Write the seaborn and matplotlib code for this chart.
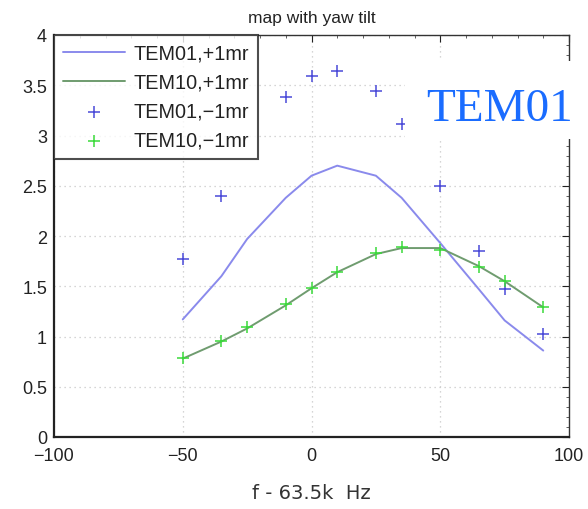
import matplotlib
matplotlib.use("Agg")
import matplotlib.pyplot as plt
from matplotlib.patches import Rectangle
from matplotlib.ticker import MultipleLocator
import seaborn as sns
import pandas as pd

# Frequency offsets (Hz from 63.5 kHz)
freq_line = [-50, -35, -25, -10, 0, 10, 25, 35, 50, 65, 75, 90]
tem01_plus = [1.17, 1.60, 1.97, 2.38, 2.60, 2.70, 2.60, 2.38, 1.93, 1.47, 1.16, 0.86]
tem10_plus = [0.78, 0.95, 1.08, 1.31, 1.48, 1.64, 1.82, 1.88, 1.88, 1.70, 1.55, 1.29]

freq_tem01_minus = [-50, -35, -10, 0, 10, 25, 35, 50, 65, 75, 90]
tem01_minus = [1.77, 2.40, 3.38, 3.59, 3.64, 3.44, 3.11, 2.50, 1.85, 1.47, 1.02]

freq_tem10_minus = [-50, -35, -25, -10, 0, 10, 25, 35, 50, 65, 75, 90]
tem10_minus = [0.79, 0.96, 1.09, 1.32, 1.48, 1.64, 1.83, 1.89, 1.86, 1.69, 1.55, 1.29]

x_ticks = [-100, -50, 0, 50, 100]
y_ticks = [0, 0.5, 1, 1.5, 2, 2.5, 3, 3.5, 4]

sns.set_style("white")
plt.rcParams["font.family"] = ["Liberation Sans", "DejaVu Sans"]

fig = plt.figure(figsize=(5.88, 5.10), dpi=100)
ax = fig.add_axes([54 / 588, 72 / 510, 515 / 588, 402 / 510])

c_blue_line = "#8a8aec"
c_green_line = "#6f9c6f"
c_blue_mark = "#4a4ad8"
c_green_mark = "#3ada3a"

lines_df = pd.DataFrame({"f": freq_line, "a": tem01_plus, "b": tem10_plus})
sns.lineplot(data=lines_df, x="f", y="a", ax=ax, color=c_blue_line, lw=1.4,
             label="TEM01,+1mr", zorder=3)
sns.lineplot(data=lines_df, x="f", y="b", ax=ax, color=c_green_line, lw=1.4,
             label="TEM10,+1mr", zorder=3)

m01 = pd.DataFrame({"f": freq_tem01_minus, "v": tem01_minus})
m10 = pd.DataFrame({"f": freq_tem10_minus, "v": tem10_minus})
sns.scatterplot(data=m01, x="f", y="v", ax=ax, marker="+", s=70, linewidth=1.1,
                color=c_blue_mark, label="TEM01,\u22121mr", zorder=4)
sns.scatterplot(data=m10, x="f", y="v", ax=ax, marker="+", s=70, linewidth=1.1,
                color=c_green_mark, label="TEM10,\u22121mr", zorder=4)

ax.set_xlim(-100, 100)
ax.set_ylim(0, 4)
ax.set_xticks(x_ticks)
ax.set_yticks(y_ticks)
ax.set_xticklabels(["\u2212100", "\u221250", "0", "50", "100"])
ax.set_yticklabels(["0", "0.5", "1", "1.5", "2", "2.5", "3", "3.5", "4"])
ax.xaxis.set_minor_locator(MultipleLocator(10))
ax.yaxis.set_minor_locator(MultipleLocator(0.1))
ax.tick_params(which="major", direction="in", length=5, width=0.8, labelsize=13,
               colors="#222222", top=True, right=True)
ax.tick_params(which="minor", direction="in", length=2.5, width=0.6,
               top=True, right=True, color="#444444")
ax.tick_params(axis="x", pad=7)
ax.tick_params(axis="y", pad=5)
ax.grid(True, which="major", ls=(0, (1, 3)), color="#c8c8c8", lw=0.9)
for side in ["top", "right"]:
    ax.spines[side].set_color("#333333")
    ax.spines[side].set_linewidth(1.0)
for side in ["left", "bottom"]:
    ax.spines[side].set_color("#222222")
    ax.spines[side].set_linewidth(1.6)

ax.set_title("map with yaw tilt", fontsize=12.5, color="#222222", pad=9)
ax.set_xlabel("f - 63.5k  Hz", fontsize=14, color="#333333",
              fontfamily="DejaVu Sans", va="center")
ax.xaxis.set_label_coords(0.5, -0.137)
ax.set_ylabel("")

leg = ax.legend(loc="upper left", fontsize=14.3, frameon=True, fancybox=False,
                borderaxespad=0, handlelength=3.1, handletextpad=0.45,
                labelspacing=0.5, borderpad=0.45)
leg.get_frame().set_edgecolor("#222222")
leg.get_frame().set_linewidth(1.5)
for t in leg.get_texts():
    t.set_color("#222222")

# Annotation overlay in the upper right
fig.add_artist(Rectangle((405 / 588, 1 - 140 / 510), 190 / 588, 78 / 510,
                         transform=fig.transFigure, facecolor="white",
                         edgecolor="none", zorder=5))
fig.text(426 / 588, 1 - 121 / 510, "TEM01", fontfamily="Liberation Serif",
         fontsize=34, color="#1a6cff", va="baseline", ha="left", zorder=6)

fig.savefig("out.png", dpi=100, facecolor="white")
